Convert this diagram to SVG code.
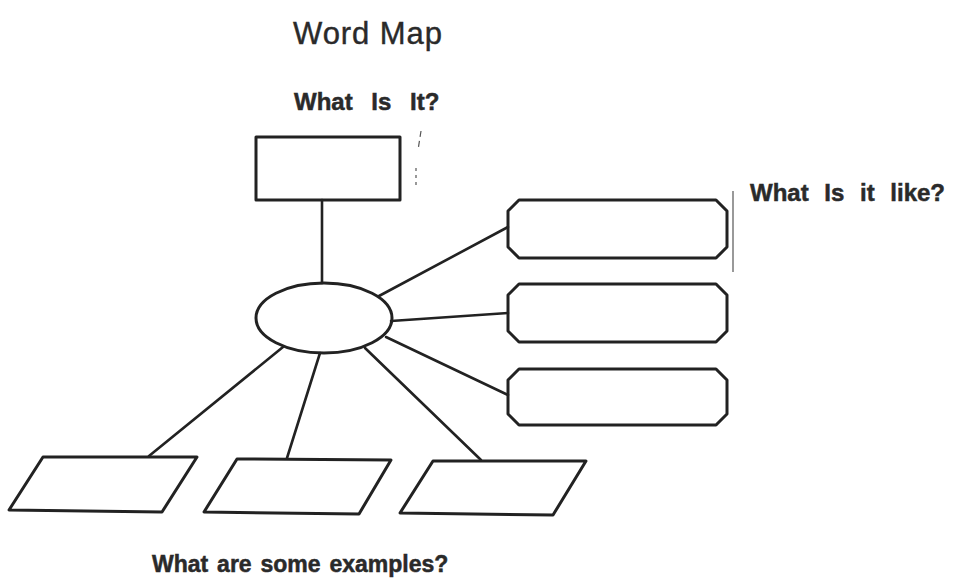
<svg xmlns="http://www.w3.org/2000/svg" width="960" height="579" viewBox="0 0 960 579">
  <style>
    .shape { fill: none; stroke: #222; stroke-width: 3; stroke-linejoin: round; }
    .link { fill: none; stroke: #222; stroke-width: 2.6; stroke-linecap: round; }
    .title { font-family: "Liberation Sans", Arial, sans-serif; font-size: 31px; fill: #2a2a2a; stroke: #2a2a2a; stroke-width: 0.4; }
    .label { font-family: "Liberation Sans", Arial, sans-serif; font-weight: bold; fill: #2a2a2a; stroke: #2a2a2a; stroke-width: 0.5; }
    .speck { fill: none; stroke: #555; stroke-width: 1.2; }
  </style>
  <rect width="960" height="579" fill="#ffffff"/>

  <text class="title" x="293" y="44" textLength="149" lengthAdjust="spacing">Word Map</text>
  <text class="label" x="294" y="110" font-size="24" word-spacing="12">What Is It?</text>
  <text class="label" x="750" y="201" font-size="24" word-spacing="9">What Is it like?</text>
  <text class="label" x="152" y="572" font-size="23" word-spacing="2.5">What are some examples?</text>

  <!-- connectors -->
  <g id="connectors">
    <line class="link" x1="322" y1="200" x2="322" y2="283"/>
    <line class="link" x1="379" y1="296" x2="508" y2="227"/>
    <line class="link" x1="391" y1="321" x2="508" y2="313"/>
    <line class="link" x1="386" y1="337" x2="508" y2="395"/>
    <line class="link" x1="283" y1="347" x2="149" y2="456"/>
    <line class="link" x1="320" y1="353" x2="287" y2="458"/>
    <line class="link" x1="365" y1="348" x2="481" y2="460"/>
  </g>

  <!-- central word -->
  <g id="center">
    <ellipse class="shape" cx="324" cy="318" rx="68" ry="35"/>
  </g>

  <!-- what is it -->
  <g id="definition">
    <rect class="shape" x="256" y="137" width="144" height="63"/>
  </g>

  <!-- what is it like -->
  <g id="property-1">
    <polygon class="shape" points="519,200 716,200 727,211 727,247 716,258 519,258 508,247 508,211"/>
  </g>
  <g id="property-2">
    <polygon class="shape" points="519,284 716,284 727,295 727,331 716,342 519,342 508,331 508,295"/>
  </g>
  <g id="property-3">
    <polygon class="shape" points="519,369 716,369 727,380 727,414 716,425 519,425 508,414 508,380"/>
  </g>

  <!-- examples -->
  <g id="example-1">
    <polygon class="shape" points="43,457 197,457 162,512 9,510"/>
  </g>
  <g id="example-2">
    <polygon class="shape" points="237,459 391,460 359,514 204,512"/>
  </g>
  <g id="example-3">
    <polygon class="shape" points="433,461 586,461 553,515 400,513"/>
  </g>

  <!-- stray marks -->
  <line class="speck" x1="733" y1="191" x2="733" y2="272"/>
  <line class="speck" x1="421" y1="131" x2="418" y2="150" stroke-dasharray="6 4"/>
  <line class="speck" x1="416" y1="168" x2="416" y2="186" stroke-dasharray="3 4"/>
</svg>
